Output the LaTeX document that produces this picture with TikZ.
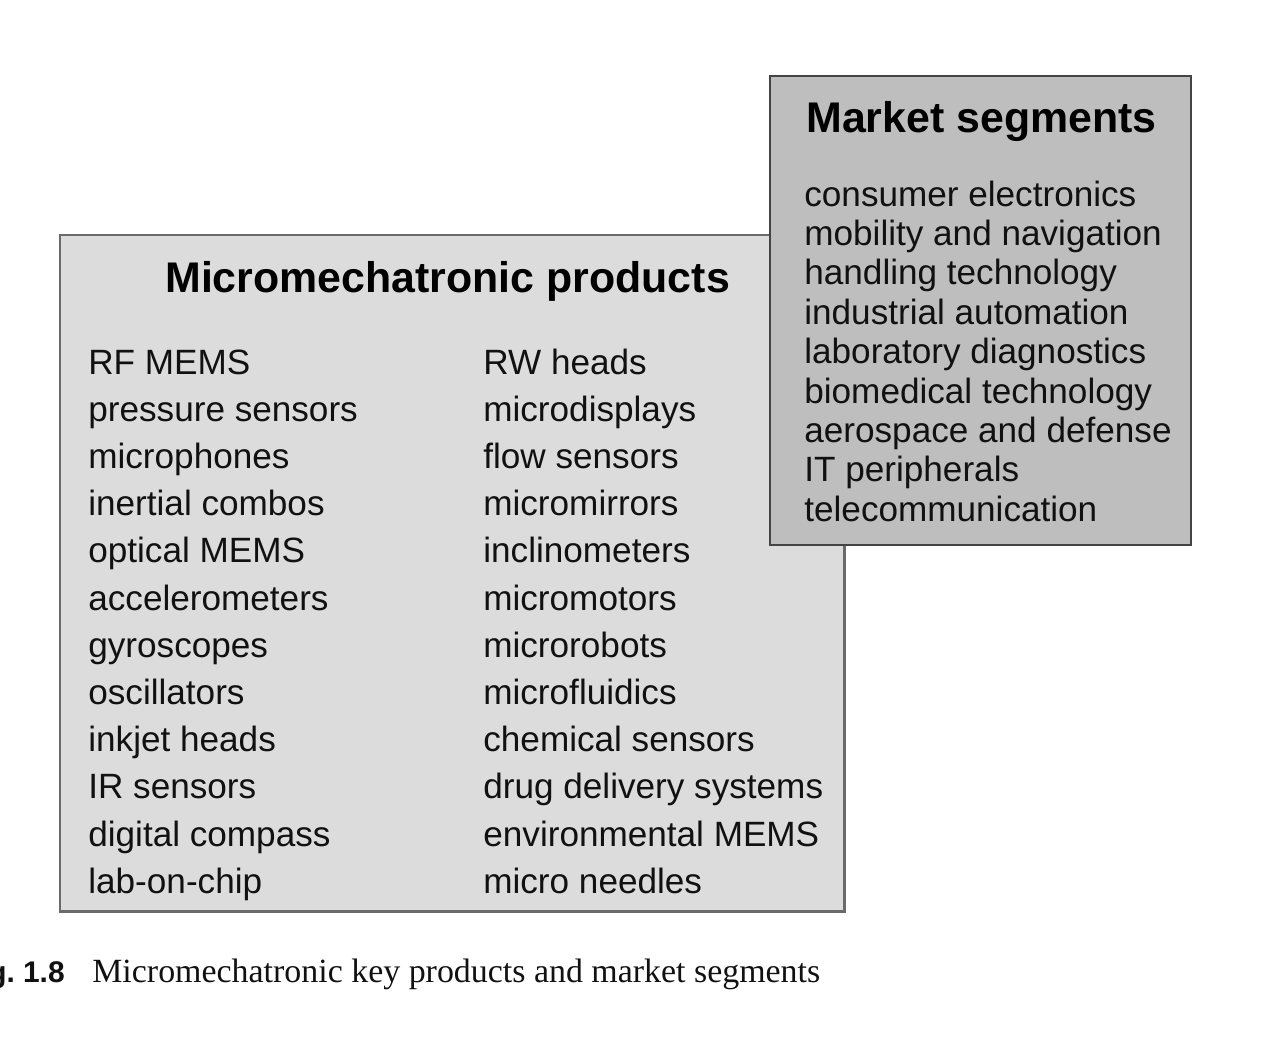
\documentclass[tikz,border=0pt]{standalone}
\usepackage{fontspec}
\setmainfont{Liberation Sans}
\newfontfamily\capserif{Liberation Serif}
\definecolor{prodfill}{HTML}{DCDCDC}
\definecolor{prodline}{HTML}{6A6A6A}
\definecolor{segfill}{HTML}{BEBEBE}
\definecolor{segline}{HTML}{444444}
\definecolor{txt}{HTML}{111111}
\begin{document}
\begin{tikzpicture}[x=0.02cm,y=-0.02cm,
  box/.style={anchor=north west, inner sep=0pt, outer sep=0pt, line width=1.6pt},
  item/.style={anchor=base west, inner sep=0pt, text=txt, font=\fontsize{20pt}{23pt}\selectfont},
  ttl/.style={anchor=base west, inner sep=0pt, text=black, font=\fontsize{24.4pt}{28pt}\selectfont\bfseries},
  figno/.style={anchor=base east, inner sep=0pt, text=txt, font=\fontsize{17pt}{20pt}\selectfont\bfseries},
  captxt/.style={anchor=base west, inner sep=0pt, text=txt, font=\fontsize{19.3pt}{23pt}\selectfont\capserif}]
\clip (0,0) rectangle (1264,1046);
\fill[white] (0,0) rectangle (1264,1046);
% boxes
\node (prodbox) [box, draw=prodline, fill=prodfill, minimum width=15.7cm, minimum height=13.54cm] at (60,235) {};
\node (segbox) [box, draw=segline, fill=segfill, minimum width=8.42cm, minimum height=9.38cm] at (770,76) {};
% titles
\node (prodtitle) [ttl] at (165,292) {Micromechatronic products};
\node (segtitle) [ttl] at (806,132) {Market segments};
% left column
\foreach \t [count=\i from 0] in {RF MEMS, pressure sensors, microphones, inertial combos, optical MEMS, accelerometers, gyroscopes, oscillators, inkjet heads, IR sensors, digital compass, lab-on-chip}
  \node (pl\i) [item] at (88,374+47.2*\i) {\t};
% right column
\foreach \t [count=\i from 0] in {RW heads, microdisplays, flow sensors, micromirrors, inclinometers, micromotors, microrobots, microfluidics, chemical sensors, drug delivery systems, environmental MEMS, micro needles}
  \node (pr\i) [item] at (483,374+47.2*\i) {\t};
% market segments
\foreach \t [count=\i from 0] in {consumer electronics, mobility and navigation, handling technology, industrial automation, laboratory diagnostics, biomedical technology, aerospace and defense, IT peripherals, telecommunication}
  \node (ms\i) [item] at (804,206+39.4*\i) {\t};
% caption
\node (fignum) [figno] at (65,982) {Fig.\ 1.8};
\node (caption) [captxt] at (92,982) {Micromechatronic key products and market segments};
\end{tikzpicture}
\end{document}
